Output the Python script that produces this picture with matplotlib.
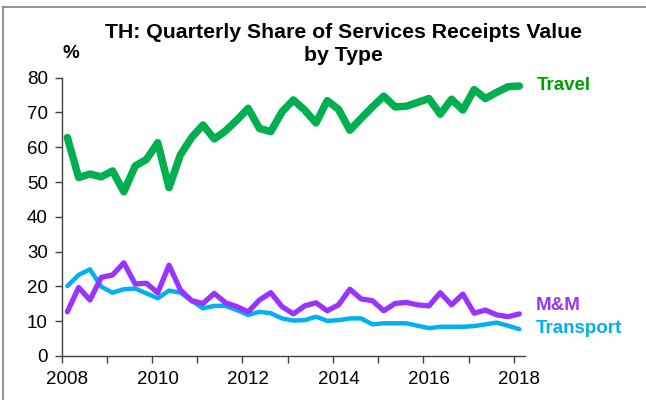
import numpy as np
import matplotlib
matplotlib.use("Agg")
import matplotlib.pyplot as plt
from matplotlib.lines import Line2D

plt.rcParams['font.family'] = ['Liberation Sans', 'DejaVu Sans']

# quarterly share (%), 2008Q1 .. 2018Q1
travel = [62.8, 51.3, 52.3, 51.5, 53.2, 47.2, 54.6, 56.5, 61.3, 48.4,
          57.8, 62.8, 66.4, 62.4, 64.7, 67.8, 71.2, 65.4, 64.5, 70.2,
          73.6, 70.7, 67.0, 73.4, 70.9, 64.9, 68.3, 71.6, 74.7, 71.6,
          71.8, 72.9, 74.0, 69.5, 73.8, 70.7, 76.6, 74.0, 75.8, 77.4,
          77.6]
mm = [12.7, 19.7, 16.1, 22.6, 23.3, 26.8, 20.7, 20.9, 18.2, 26.1,
      19.0, 15.9, 15.1, 18.0, 15.3, 14.2, 12.7, 16.1, 18.2, 14.2,
      12.1, 14.4, 15.3, 13.0, 14.7, 19.2, 16.4, 15.9, 13.0, 15.1,
      15.4, 14.7, 14.4, 18.2, 14.7, 17.8, 12.3, 13.2, 11.8, 11.3,
      12.1]
transport = [20.1, 23.3, 24.9, 19.9, 18.2, 19.2, 19.4, 18.0, 16.6, 18.8,
             18.2, 15.9, 13.7, 14.4, 14.4, 13.2, 11.8, 12.7, 12.3, 10.8,
             10.2, 10.3, 11.3, 10.1, 10.3, 10.8, 10.8, 9.1, 9.4, 9.4,
             9.4, 8.7, 8.0, 8.4, 8.4, 8.4, 8.6, 9.1, 9.6, 8.7,
             7.7]
year_labels = ['2008', '2010', '2012', '2014', '2016', '2018']

GREEN = '#00B050'
PURPLE = '#9933FF'
BLUE = '#00B0F0'

# x: centre of each quarter, in years
x = 2008 + 0.125 + 0.25*np.arange(len(travel))

fig = plt.figure(figsize=(6.46, 4.0), dpi=100)
ax = fig.add_axes([0.0955, 0.11, 0.8127-0.0955, 0.8058-0.11])

ax.plot(x, transport, color=BLUE, lw=3.2, solid_joinstyle='round', solid_capstyle='round', zorder=3)
ax.plot(x, mm, color=PURPLE, lw=3.8, solid_joinstyle='round', solid_capstyle='round', zorder=4)
ax.plot(x, travel, color=GREEN, lw=5.4, solid_joinstyle='round', solid_capstyle='round', zorder=5)

ax.set_xlim(2008, 2018.25)
ax.set_ylim(0, 80)
ax.set_yticks(np.arange(0, 81, 10))

# year boundaries as tick marks, labels at the Q1 of every second year
ax.set_xticks(np.arange(2008, 2019), minor=True)
ax.set_xticks([int(y) + 0.125 for y in year_labels])
ax.set_xticklabels(year_labels)
ax.tick_params(axis='x', which='major', length=0, pad=11)
ax.tick_params(axis='x', which='minor', length=5, width=1, color='#404040', direction='out')
ax.tick_params(axis='y', length=5, width=1, color='#404040', direction='out', pad=5)
ax.tick_params(labelsize=13.5, labelcolor='black')

for s in ['top', 'right']:
    ax.spines[s].set_visible(False)
for s in ['left', 'bottom']:
    ax.spines[s].set_color('#404040')
    ax.spines[s].set_linewidth(1)

# series labels
ax.text(2018.52, 77.8, 'Travel', color='#00A000', fontsize=13.5, fontweight='bold',
        va='center', ha='left', clip_on=False)
ax.text(2018.48, 14.4, 'M&M', color=PURPLE, fontsize=13.5, fontweight='bold',
        va='center', ha='left', clip_on=False)
ax.text(2018.48, 7.8, 'Transport', color=BLUE, fontsize=13.5, fontweight='bold',
        va='center', ha='left', clip_on=False)

fig.text(0.532, 0.89, 'TH: Quarterly Share of Services Receipts Value\nby Type',
         ha='center', va='center', fontsize=15.3, fontweight='bold',
         linespacing=1.3)
fig.text(0.096, 0.866, '%', ha='left', va='center', fontsize=13.5, fontweight='bold')

# chart frame
fig.add_artist(Line2D([3/646, 3/646], [0, 1-7/400], color='#808080', lw=1.2))
fig.add_artist(Line2D([3/646, 1], [1-7/400, 1-7/400], color='#808080', lw=1.2))

fig.savefig('out.png', dpi=100)
